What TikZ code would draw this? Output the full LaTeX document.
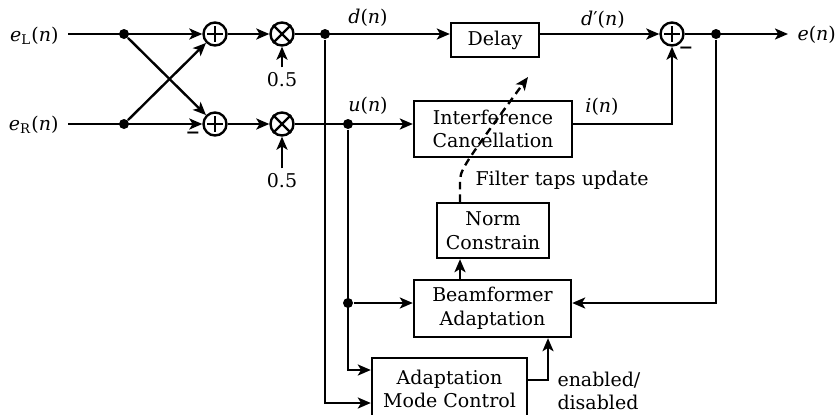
\documentclass[tikz,border=0pt]{standalone}
\usepackage{fontspec}
\setmainfont{DejaVu Serif}
\usetikzlibrary{arrows.meta}
\begin{document}
\begin{tikzpicture}[x=0.4pt,y=-0.4pt,
  every node/.style={font=\fontsize{7.6}{9.4}\selectfont, inner sep=0pt},
  line/.style={line width=0.95pt},
  arr/.style={line width=0.95pt,-{Stealth[length=5.2pt,width=4.4pt,inset=1.3pt]}},
  blk/.style={draw, line width=0.95pt, align=center},
  dot/.style={circle, fill=black, minimum size=4pt},
  sum/.style={circle, draw, line width=0.95pt, minimum size=9.2pt},
  half/.style={inner sep=2pt},
  minus/.style={font=\fontsize{7}{8}\selectfont\bfseries}]
\useasboundingbox (0,0) rectangle (839,414);

% coordinates
\coordinate (inL) at (68,34);
\coordinate (inR) at (68,124);
\coordinate (eo) at (788,34);
\coordinate (ya) at (0,370);
\coordinate (yb) at (0,403);
\coordinate (yc) at (0,380);
\coordinate (xc) at (548,0);
\coordinate (xt) at (460,0);
\coordinate (dtip) at (528,77);

% input labels
\node[anchor=east] (eL) at (59,36) {\textit{e}\textsubscript{L}(\textit{n})};
\node[anchor=east] (eR) at (59,125) {\textit{e}\textsubscript{R}(\textit{n})};

% dots
\node[dot] (dL) at (124,34) {};
\node[dot] (dR) at (124,124) {};
\node[dot] (dd) at (325,34) {};
\node[dot] (du) at (348,124) {};
\node[dot] (du2) at (348,303) {};
\node[dot] (dout) at (716,34) {};

% sums and multipliers
\node[sum] (s1) at (215,34) {};
\node[sum] (s2) at (215,124) {};
\node[sum] (m1) at (282,34) {};
\node[sum] (m2) at (282,124) {};
\node[sum] (s3) at (672,34) {};
\foreach \n in {s1,s2,s3}{
  \draw[line] ([xshift=-3.1pt]\n.center) -- ([xshift=3.1pt]\n.center);
  \draw[line] ([yshift=-3.1pt]\n.center) -- ([yshift=3.1pt]\n.center);
}
\foreach \n in {m1,m2}{
  \draw[line] (\n.north east) -- (\n.south west);
  \draw[line] (\n.north west) -- (\n.south east);
}
\node[half] (h1) at (282,80) {0.5};
\node[half] (h2) at (282,181) {0.5};
\node[minus] (mn1) at (193,135) {−};
\node[minus] (mn2) at (686,50) {−};

% blocks
\node[blk, minimum width=35.2pt, minimum height=13.6pt] (delay) at (495,40) {Delay};
\node[blk, minimum width=63.2pt, minimum height=22.4pt] (ic) at (493,129) {Interference\\Cancellation};
\node[blk, minimum width=44.8pt, minimum height=22pt] (norm) at (493,230.5) {Norm\\Constrain};
\node[blk, minimum width=62.8pt, minimum height=22.8pt] (bf) at (492.5,308.5) {Beamformer\\Adaptation};
\node[blk, minimum width=62pt, minimum height=24.8pt] (amc) at (449.5,389) {Adaptation\\Mode Control};

% signal labels
\node (ldn) at (368,18) {\textit{d}(\textit{n})};
\node (lun) at (368,106) {\textit{u}(\textit{n})};
\node (ldpn) at (603,20) {\textit{d}′(\textit{n})};
\node (lin) at (602,107) {\textit{i}(\textit{n})};
\node[anchor=west] (len) at (797,35) {\textit{e}(\textit{n})};
\node[anchor=west] (ftu) at (475,180) {Filter taps update};
\node[anchor=west, align=left] (en) at (557,391) {enabled/\\disabled};

% connectors
\draw[arr] (inL) -- (s1);
\draw[arr] (inR) -- (s2);
\draw[arr] (dL) -- (s2);
\draw[arr] (dR) -- (s1);
\draw[arr] (s1) -- (m1);
\draw[arr] (s2) -- (m2);
\draw[arr] (h1) -- (m1);
\draw[arr] (h2) -- (m2);
\draw[arr] (m1) -- (m1 -| delay.west);
\draw[arr] (delay.east |- m1) -- (s3);
\draw[arr] (s3) -- (eo);
\draw[arr] (m2) -- (m2 -| ic.west);
\draw[arr] (ic.east |- m2) -| (s3);
\draw[arr] (dout) |- (bf.east |- du2);
\draw[arr] (du2) -- (du2 -| bf.west);
\draw[arr] (du) |- (amc.west |- ya);
\draw[arr] (dd) |- (amc.west |- yb);
\draw[arr] (amc.east |- yc) -| (bf.south -| xc);
\draw[arr] (bf.north -| xt) -- (norm.south -| xt);
\draw[arr, dash pattern=on 3pt off 2pt] (norm.north -| xt) -- ++(0,-18) .. controls +(0,-14) .. (dtip);
\end{tikzpicture}
\end{document}
